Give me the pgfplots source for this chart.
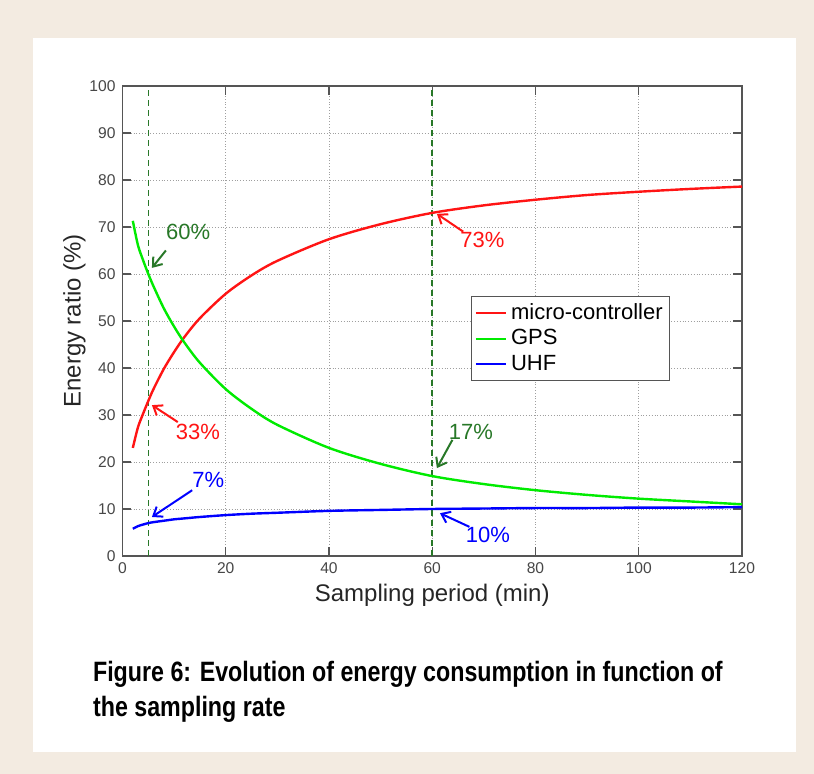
\documentclass[border=0pt]{standalone}
\usepackage{fontspec}
\setmainfont{Liberation Sans}
\newfontfamily\capfont[FakeStretch=0.83]{Liberation Sans}
\usepackage{pgfplots}
\pgfplotsset{compat=1.18}
\usetikzlibrary{arrows.meta}
\definecolor{framebg}{RGB}{243,235,225}
\definecolor{dgreen}{RGB}{40,120,40}
\definecolor{mred}{RGB}{255,20,20}
\definecolor{mgreen}{RGB}{0,235,0}
\definecolor{mblue}{RGB}{0,0,255}
\definecolor{axgray}{RGB}{85,85,85}
\begin{document}
\begin{tikzpicture}[x=1pt,y=1pt]
\fill[framebg] (0,0) rectangle (407,387);
\fill[white] (16.5,11) rectangle (398,368);
\begin{axis}[
  at={(61.25pt,109pt)}, anchor=south west,
  scale only axis, width=309.75pt, height=235pt,
  xmin=0, xmax=120, ymin=0, ymax=100,
  xtick={0,20,...,120}, ytick={0,10,...,100},
  grid=major,
  major grid style={densely dotted, gray!75, line width=0.4pt},
  tick align=inside,
  axis line style={axgray, line width=0.7pt},
  tick style={axgray, line width=0.6pt},
  tick label style={font=\fontsize{7.8}{9}\selectfont, text=black!72},
  /pgf/number format/assume math mode=true,
  xlabel={Sampling period (min)},
  ylabel={Energy ratio (\%)},
  label style={font=\fontsize{12}{14}\selectfont, text=black!85},
  xlabel style={yshift=2pt},
  ylabel style={yshift=-5pt},
  legend style={at={(rel axis cs:0.884,0.553)}, anchor=north east,
    draw=axgray, line width=0.5pt, font=\fontsize{11}{13}\selectfont,
    inner sep=1.5pt, row sep=-0.5pt},
  legend cell align=left,
  legend image code/.code={\draw[#1] (0pt,0pt) -- (15pt,0pt);},
]
\addplot[dgreen, line width=0.8pt, dash pattern=on 3pt off 2pt, forget plot] coordinates {(5,0) (5,100)};
\addplot[dgreen, line width=0.8pt, dash pattern=on 3pt off 2pt, forget plot] coordinates {(60,0) (60,100)};
\addplot[mred, line width=1.2pt, smooth] coordinates {
(2,23.0) (3,27.4) (4,30.3) (5,33.0) (6,35.5) (8,39.8) (10,43.4) (12,46.6)
(15,50.6) (20,55.8) (25,59.7) (30,62.8) (40,67.4) (50,70.6) (60,73.0)
(70,74.6) (80,75.8) (90,76.8) (100,77.5) (110,78.1) (120,78.6)};
\addlegendentry{micro-controller}
\addplot[mgreen, line width=1.2pt, smooth] coordinates {
(2,71.3) (3,66.1) (4,62.9) (5,60.0) (6,57.4) (8,52.7) (10,48.8) (12,45.4)
(15,41.1) (20,35.5) (25,31.3) (30,27.9) (40,23.0) (50,19.6) (60,17.0)
(70,15.3) (80,14.0) (90,13.0) (100,12.2) (110,11.6) (120,11.0)};
\addlegendentry{GPS}
\addplot[mblue, line width=1.2pt, smooth] coordinates {
(2,5.8) (3,6.35) (4,6.7) (5,7.0) (6,7.2) (8,7.5) (10,7.8) (12,8.0)
(15,8.3) (20,8.7) (25,9.0) (30,9.2) (40,9.6) (50,9.8) (60,10.0)
(70,10.1) (80,10.2) (90,10.2) (100,10.3) (110,10.3) (120,10.4)};
\addlegendentry{UHF}
% annotations
\tikzset{ann/.style={line width=1pt, -{Straight Barb[length=4pt,width=6pt]}},
         lab/.style={font=\fontsize{11}{13}\selectfont}}
\draw[ann, dgreen] (axis cs:8.4,65) -- (axis cs:5.7,61.3);
\node[lab, text=dgreen] at (axis cs:12.7,69) {60\%};
\draw[ann, mred] (axis cs:66,69) -- (axis cs:60.9,72.8);
\node[lab, text=mred] at (axis cs:69.7,67.2) {73\%};
\draw[ann, mred] (axis cs:10.7,28.5) -- (axis cs:5.7,32.1);
\node[lab, text=mred] at (axis cs:14.6,26.4) {33\%};
\draw[ann, mblue] (axis cs:13.5,14.0) -- (axis cs:5.7,8.3);
\node[lab, text=mblue] at (axis cs:16.6,16.2) {7\%};
\draw[ann, dgreen] (axis cs:63.9,24.7) -- (axis cs:60.9,18.7);
\node[lab, text=dgreen] at (axis cs:67.5,26.4) {17\%};
\draw[ann, mblue] (axis cs:67.2,6.2) -- (axis cs:61.5,9.1);
\node[lab, text=mblue] at (axis cs:70.8,4.5) {10\%};
\end{axis}
\node[anchor=base west, align=left, font=\capfont\bfseries\fontsize{14}{17.5}\selectfont]
  at (43,28.5) {Figure 6: Evolution of energy consumption in function of\\the sampling rate};
\end{tikzpicture}
\end{document}
